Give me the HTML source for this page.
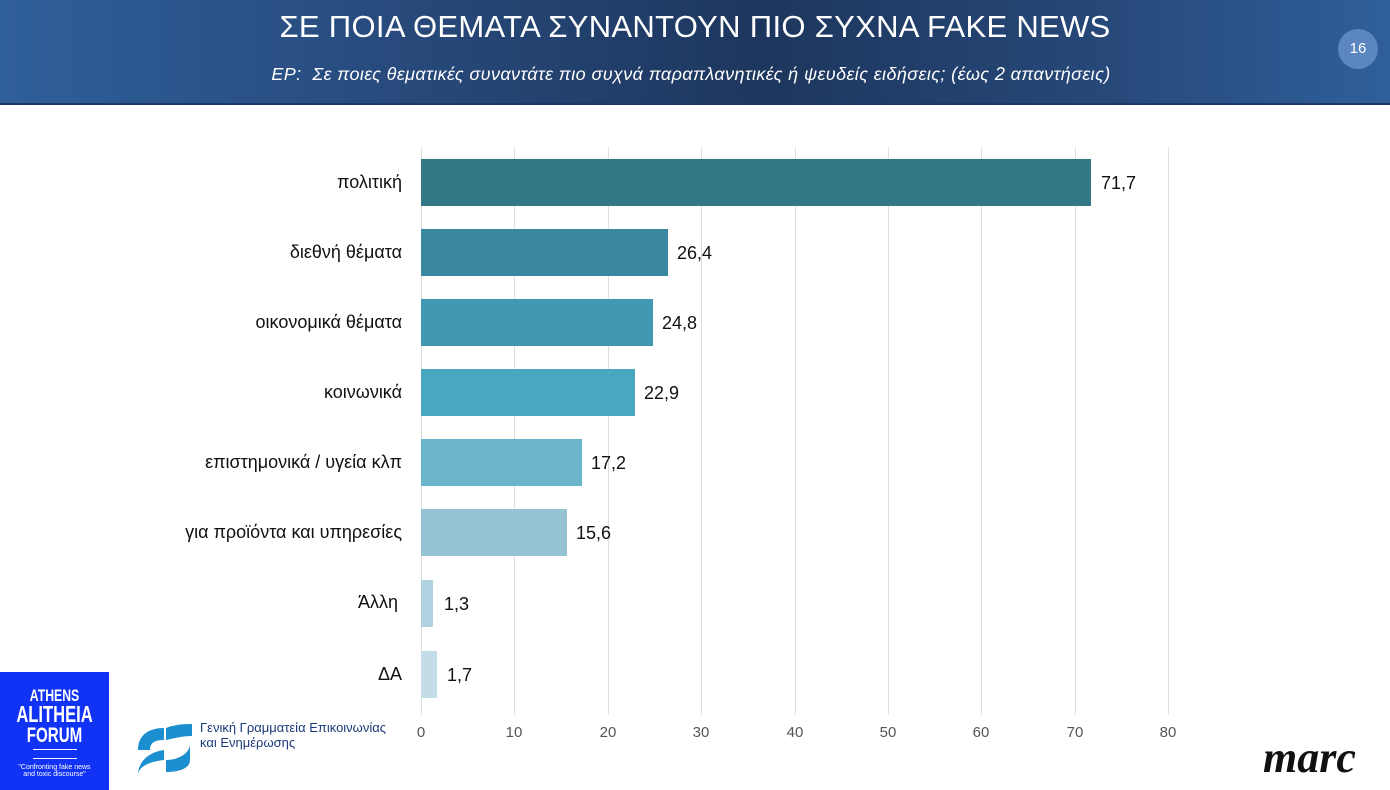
<!DOCTYPE html>
<html><head><meta charset="utf-8"><style>
body{margin:0;width:1390px;height:790px;position:relative;background:#fff;font-family:"Liberation Sans","DejaVu Sans",sans-serif;overflow:hidden}
.hdr{position:absolute;left:0;top:0;width:1390px;height:103px;background:linear-gradient(90deg,#2f5f9b 0%,#27497a 30%,#1d365d 55%,#27497a 80%,#2f5f9b 100%);border-bottom:2px solid #1b3a6a}
.t{position:absolute;left:0;width:1390px;text-align:center;color:#fff}
.lbl{position:absolute;right:988px;font-size:18px;color:#111;text-align:right;white-space:nowrap}
.bar{position:absolute;left:421px;height:47px}
.val{position:absolute;font-size:18px;color:#111}
.g{position:absolute;top:147px;height:568px;width:1px;background:#dedede}
.tk{position:absolute;top:724px;font-size:15px;color:#555;width:40px;text-align:center}
</style></head><body>
<div class="hdr"></div>
<div class="t" style="top:9px;font-size:31px;letter-spacing:0.3px">ΣΕ ΠΟΙΑ ΘΕΜΑΤΑ ΣΥΝΑΝΤΟΥΝ ΠΙΟ ΣΥΧΝΑ FAKE NEWS</div>
<div class="t" style="top:64px;font-size:18px;font-style:italic;left:-4px;letter-spacing:0.4px">ΕΡ:&nbsp; Σε ποιες θεματικές συναντάτε πιο συχνά παραπλανητικές ή ψευδείς ειδήσεις; (έως 2 απαντήσεις)</div>
<div style="position:absolute;left:1338px;top:29px;width:40px;height:40px;border-radius:50%;background:#5b86c0;color:#fff;font-size:15px;text-align:center;line-height:40px">16</div>

<div class="g" style="left:421px"></div><div class="g" style="left:514px"></div><div class="g" style="left:608px"></div><div class="g" style="left:701px"></div><div class="g" style="left:795px"></div><div class="g" style="left:888px"></div><div class="g" style="left:981px"></div><div class="g" style="left:1075px"></div><div class="g" style="left:1168px"></div>
<div class="tk" style="left:401px">0</div><div class="tk" style="left:494px">10</div><div class="tk" style="left:588px">20</div><div class="tk" style="left:681px">30</div><div class="tk" style="left:775px">40</div><div class="tk" style="left:868px">50</div><div class="tk" style="left:961px">60</div><div class="tk" style="left:1055px">70</div><div class="tk" style="left:1148px">80</div>

<div class="lbl" style="top:172px">πολιτική</div><div class="bar" style="top:159px;width:670px;background:#347888"></div><div class="val" style="left:1101px;top:173px">71,7</div>
<div class="lbl" style="top:242px">διεθνή θέματα</div><div class="bar" style="top:229px;width:247px;background:#3a88a0"></div><div class="val" style="left:677px;top:243px">26,4</div>
<div class="lbl" style="top:312px">οικονομικά θέματα</div><div class="bar" style="top:299px;width:232px;background:#4298b0"></div><div class="val" style="left:662px;top:313px">24,8</div>
<div class="lbl" style="top:382px">κοινωνικά</div><div class="bar" style="top:369px;width:214px;background:#48a8c1"></div><div class="val" style="left:644px;top:383px">22,9</div>
<div class="lbl" style="top:452px">επιστημονικά / υγεία κλπ</div><div class="bar" style="top:439px;width:161px;background:#6bb5cb"></div><div class="val" style="left:591px;top:453px">17,2</div>
<div class="lbl" style="top:522px">για προϊόντα και υπηρεσίες</div><div class="bar" style="top:509px;width:146px;background:#96c3d4"></div><div class="val" style="left:576px;top:523px">15,6</div>
<div class="lbl" style="top:592px;right:992px">Άλλη</div><div class="bar" style="top:580px;width:12px;background:#afd3e0"></div><div class="val" style="left:444px;top:594px">1,3</div>
<div class="lbl" style="top:664px">ΔΑ</div><div class="bar" style="top:651px;width:16px;background:#c3dde6"></div><div class="val" style="left:447px;top:665px">1,7</div>

<div style="position:absolute;left:0;top:672px;width:109px;height:118px;background:#1133f5;color:#fff;text-align:center;font-family:'Liberation Sans Narrow','Liberation Sans',sans-serif">
<div style="font-size:17px;font-weight:bold;margin-top:14px;line-height:19px;transform:scaleX(.72)">ATHENS<br><span style="font-size:23px">ALITHEIA</span><br><span style="font-size:21px">FORUM</span></div>
<div style="margin:3px auto 0;width:44px;height:8px;border-top:1px solid #fff;border-bottom:1px solid #fff"></div>
<div style="font-size:7px;margin-top:5px">"Confronting fake news<br>and toxic discourse"</div></div>
<svg style="position:absolute;left:136px;top:722px" width="56" height="56" viewBox="0 0 56 56"><path d="M2 28 C2 12 14 6 28 6 L28 18 C20 18 14 20 14 28Z M30 6 C40 2 50 2 56 2 L56 14 C46 14 40 16 30 18Z M2 54 C2 46 10 40 28 38 L28 28 C14 30 2 38 2 54Z M30 38 C44 38 54 30 54 22 L54 38 C54 46 44 50 30 50Z" fill="#1b8fcf"/></svg>
<div style="position:absolute;left:200px;top:720px;font-size:13px;color:#1a3a7a;line-height:15px">Γενική Γραμματεία Επικοινωνίας<br>και Ενημέρωσης</div>
<div style="position:absolute;left:1263px;top:732px;font-family:'Liberation Serif',serif;font-style:italic;font-weight:bold;font-size:44px;color:#111;letter-spacing:0px">marc</div>
</body></html>
